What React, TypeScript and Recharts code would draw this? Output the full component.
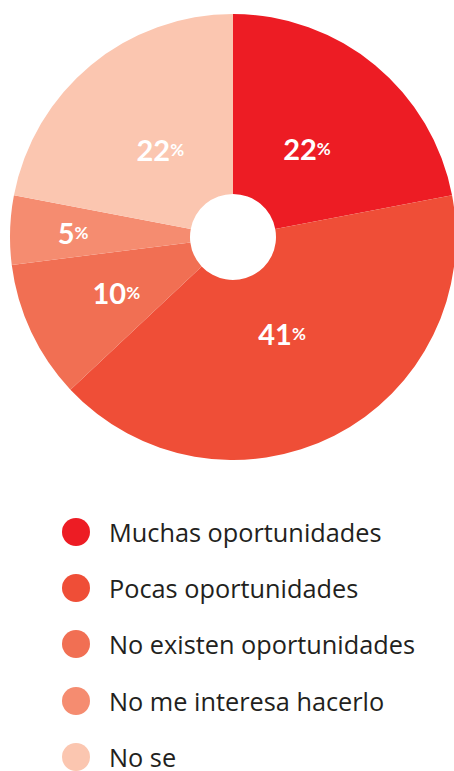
import React from "react";
import { Legend, Pie, PieChart } from "recharts";

const categories = [
  "Muchas oportunidades",
  "Pocas oportunidades",
  "No existen oportunidades",
  "No me interesa hacerlo",
  "No se",
];
const percentages = [22, 41, 10, 5, 22];
const colors = ["#ED1C24", "#EF4E37", "#F16F53", "#F58C70", "#FBC6B0"];

const data = categories.map((name, i) => ({
  name,
  value: percentages[i],
  fill: colors[i],
}));

// distance of each label from the centre (small slices pushed outwards)
const labelRadius = [116, 108, 129, 160, 114];

const RAD = Math.PI / 180;

function renderLabel(props: any) {
  const { cx, cy, midAngle, index, value } = props;
  const r = labelRadius[index];
  const x = cx + r * Math.cos(-midAngle * RAD);
  const y = cy + r * Math.sin(-midAngle * RAD);
  return (
    <text
      x={x}
      y={y}
      textAnchor="middle"
      dominantBaseline="central"
      fill="#fff"
      fontFamily="Lato, sans-serif"
    >
      <tspan fontSize={29} fontWeight={700}>
        {value}
      </tspan>
      <tspan fontSize={17} fontWeight={700}>
        %
      </tspan>
    </text>
  );
}

// legend drawn in data order (recharts would otherwise sort it)
function renderLegend() {
  return (
    <div style={{ display: "flex", flexDirection: "column", gap: 28.2 }}>
      {data.map((entry) => (
        <div
          key={entry.name}
          style={{
            display: "flex",
            alignItems: "center",
            height: 28,
            paddingLeft: 62,
          }}
        >
          <span
            style={{
              width: 28,
              height: 28,
              borderRadius: "50%",
              background: entry.fill,
              marginRight: 19,
              flexShrink: 0,
            }}
          />
          <span
            style={{
              fontFamily: "'Open Sans', sans-serif",
              fontSize: 25.3,
              color: "#231F20",
              whiteSpace: "nowrap",
              lineHeight: "28px",
            }}
          >
            {entry.name}
          </span>
        </div>
      ))}
    </div>
  );
}

export default function App() {
  return (
    <div style={{ position: "absolute", left: 0, top: 0, width: 454, height: 771, background: "#fff", overflow: "hidden" }}>
      <PieChart width={454} height={771} margin={{ top: 0, right: 0, bottom: 0, left: 0 }}>
        <Pie
          data={data}
          dataKey="value"
          nameKey="name"
          cx={233}
          cy={237}
          innerRadius={43}
          outerRadius={223}
          startAngle={90}
          endAngle={-270}
          stroke="none"
          label={renderLabel}
          labelLine={false}
          isAnimationActive={false}
        />
        <Legend
          layout="vertical"
          verticalAlign="bottom"
          content={renderLegend}
          wrapperStyle={{ top: 518, left: 0, bottom: "auto", width: 454 }}
        />
      </PieChart>
    </div>
  );
}
